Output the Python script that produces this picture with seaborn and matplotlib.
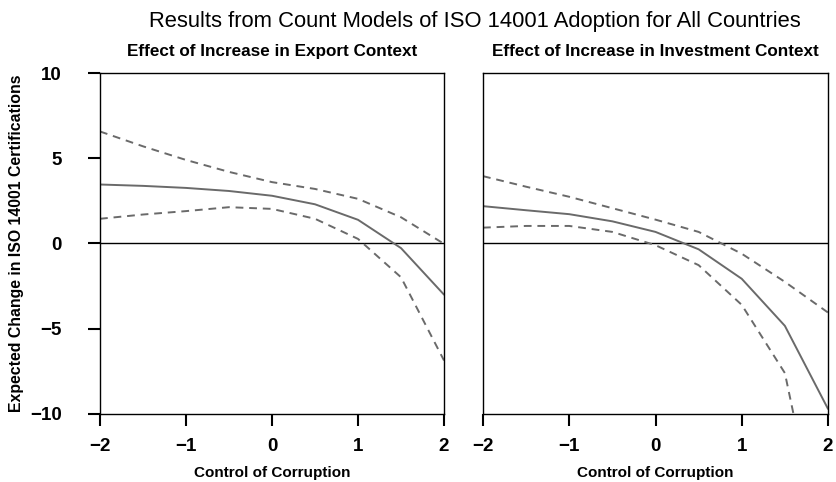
import matplotlib
matplotlib.use("Agg")
import matplotlib.pyplot as plt
import seaborn as sns
import pandas as pd

corruption = [-2.0, -1.5, -1.0, -0.5, 0.0, 0.5, 1.0, 1.5, 2.0]

export_mean = [3.46, 3.38, 3.26, 3.08, 2.80, 2.30, 1.39, -0.27, -3.00]
export_upper = [6.57, 5.70, 4.90, 4.20, 3.60, 3.20, 2.62, 1.54, -0.02]
export_lower = [1.45, 1.70, 1.90, 2.13, 2.03, 1.45, 0.27, -1.98, -6.86]

invest_mean = [2.19, 1.95, 1.72, 1.30, 0.68, -0.34, -2.07, -4.83, -9.70]
invest_upper = [3.95, 3.33, 2.74, 2.07, 1.40, 0.68, -0.60, -2.25, -4.05]
invest_lower = [0.93, 1.03, 1.03, 0.68, -0.10, -1.27, -3.60, -7.60, -19.60]

title = "Results from Count Models of ISO 14001 Adoption for All Countries"
panel_titles = ["Effect of Increase in Export Context", "Effect of Increase in Investment Context"]
xlabel = "Control of Corruption"
ylabel = "Expected Change in ISO 14001 Certifications"
xticks = [-2, -1, 0, 1, 2]
yticks = [-10, -5, 0, 5, 10]

sns.set_theme(style="ticks")
plt.rcParams['font.family'] = ['Liberation Sans', 'DejaVu Sans']
plt.rcParams['text.color'] = 'black'
plt.rcParams['axes.labelcolor'] = 'black'

fig = plt.figure(figsize=(8.36, 4.82), dpi=100)
W, H = 836, 482
ax1 = fig.add_axes([100 / W, 1 - 414 / H, 344 / W, 341 / H])
ax2 = fig.add_axes([483 / W, 1 - 414 / H, 345 / W, 341 / H])

panels = [
    (ax1, export_mean, export_upper, export_lower),
    (ax2, invest_mean, invest_upper, invest_lower),
]

def fmt(t):
    return ("\u2212" + str(abs(t))) if t < 0 else str(t)

for i, (ax, m, u, l) in enumerate(panels):
    df = pd.DataFrame({
        "x": corruption * 3,
        "y": m + u + l,
        "series": ["mean"] * 9 + ["upper"] * 9 + ["lower"] * 9,
    })
    ax.axhline(0, color="black", lw=1.0, zorder=1)
    sns.lineplot(data=df, x="x", y="y", style="series",
                 units="series", estimator=None,
                 dashes={"mean": "", "upper": (4, 3), "lower": (4, 3)},
                 color="#6a6a6a", lw=1.4, ax=ax, legend=False)
    ax.set_xlim(-2, 2)
    ax.set_ylim(-10, 10)
    ax.set_xticks(xticks)
    ax.set_xticklabels([fmt(t) for t in xticks], fontweight="bold")
    ax.set_xlabel(xlabel, fontsize=11, fontweight="bold", labelpad=7.5)
    ax.set_title(panel_titles[i], fontsize=12.3, fontweight="bold", pad=12)
    for s in ax.spines.values():
        s.set_color("black")
        s.set_linewidth(1.0)
        s.set_visible(True)
    ax.tick_params(axis="x", direction="out", length=8.6, width=1.5,
                   color="black", labelsize=13.5, bottom=True, pad=9, labelcolor="black")
    if i == 0:
        ax.set_yticks(yticks)
        ax.set_yticklabels([fmt(t) for t in yticks], fontweight="bold")
        ax.tick_params(axis="y", direction="out", length=8.6, width=1.5,
                       color="black", labelsize=13.5, left=True, pad=19, labelcolor="black")
        ax.set_ylabel(ylabel, fontsize=11.4, fontweight="bold", labelpad=4)
    else:
        ax.set_yticks([])
        ax.set_ylabel("")
        ax.tick_params(axis="y", left=False)

fig.suptitle(title, fontsize=15.8, x=0.5676, y=0.978, color="black")
fig.savefig("out.png", dpi=100)
